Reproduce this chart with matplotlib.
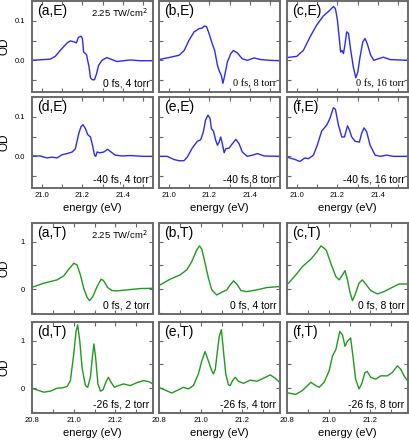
import matplotlib
matplotlib.use("Agg")
import matplotlib.pyplot as plt
from matplotlib.ticker import MultipleLocator, FormatStrFormatter

plt.rcParams["font.family"] = ["Liberation Sans", "DejaVu Sans"]

# ---- E panels (energy axis 20.95 - 21.55 eV) ----
aE_x = [20.95, 21.04, 21.065, 21.09, 21.124, 21.14, 21.157, 21.17, 21.18, 21.193, 21.2, 21.206,
        21.22, 21.226, 21.233, 21.24, 21.249, 21.26, 21.27, 21.28, 21.297, 21.32, 21.347, 21.37,
        21.437, 21.487, 21.55]
aE_y = [0.0, 0.003, 0.01, 0.025, 0.044, 0.049, 0.047, 0.044, 0.058, 0.061, 0.055, 0.021,
        0.015, 0.0, -0.017, -0.044, -0.049, -0.049, -0.034, -0.013, 0.0, 0.007, 0.002, -0.003,
        0.001, -0.001, -0.001]

bE_x = [20.95, 21.008, 21.05, 21.075, 21.099, 21.124, 21.148, 21.165, 21.176, 21.186, 21.198,
        21.214, 21.226, 21.24, 21.249, 21.259, 21.267, 21.276, 21.289, 21.306, 21.319, 21.338,
        21.363, 21.388, 21.421, 21.454, 21.504, 21.55]
bE_y = [0.002, 0.008, 0.013, 0.025, 0.051, 0.072, 0.08, 0.082, 0.087, 0.085, 0.068,
        0.042, 0.025, -0.013, -0.027, -0.038, -0.058, -0.038, -0.004, 0.017, 0.025, 0.019,
        0.004, 0.0, 0.006, 0.002, 0.0, -0.001]

cE_x = [20.95, 20.998, 21.031, 21.064, 21.097, 21.13, 21.163, 21.18, 21.19, 21.2, 21.21, 21.216,
        21.223, 21.23, 21.238, 21.246, 21.255, 21.266, 21.279, 21.291, 21.301, 21.312, 21.326,
        21.337, 21.348, 21.365, 21.381, 21.403, 21.428, 21.461, 21.55]
cE_y = [0.007, 0.01, 0.025, 0.059, 0.089, 0.112, 0.127, 0.136, 0.131, 0.102, 0.051, 0.021,
        0.025, 0.017, 0.042, 0.072, 0.068, 0.025, -0.017, -0.044, -0.03, 0.008, 0.047,
        0.055, 0.042, 0.013, 0.0, 0.004, 0.008, 0.002, 0.0]

dE_x = [20.95, 20.991, 21.024, 21.049, 21.074, 21.099, 21.124, 21.149, 21.165, 21.182, 21.193,
        21.203, 21.215, 21.226, 21.24, 21.25, 21.26, 21.266, 21.273, 21.286, 21.306, 21.325,
        21.342, 21.363, 21.396, 21.438, 21.504, 21.55]
dE_y = [0.001, 0.001, -0.004, -0.002, -0.004, 0.004, 0.007, 0.011, 0.019, 0.058, 0.075,
        0.08, 0.07, 0.055, 0.049, 0.028, 0.003, 0.0, 0.011, 0.009, 0.011, 0.018,
        0.011, 0.003, 0.001, 0.002, 0.0, 0.0]

eE_x = [20.95, 20.991, 21.024, 21.049, 21.074, 21.09, 21.115, 21.14, 21.157, 21.17, 21.181,
        21.193, 21.203, 21.21, 21.22, 21.231, 21.24, 21.248, 21.256, 21.264, 21.273, 21.281,
        21.298, 21.314, 21.331, 21.347, 21.363, 21.388, 21.413, 21.438, 21.471, 21.55]
eE_y = [0.0, 0.0, -0.008, -0.011, -0.011, -0.002, 0.021, 0.038, 0.042, 0.062, 0.092,
        0.104, 0.096, 0.07, 0.064, 0.041, 0.028, 0.036, 0.049, 0.032, 0.009, 0.019,
        0.021, 0.032, 0.043, 0.032, 0.011, 0.0, 0.003, 0.007, 0.001, 0.0]

fE_x = [20.95, 20.99, 21.014, 21.039, 21.056, 21.081, 21.1, 21.122, 21.147, 21.163, 21.18,
        21.19, 21.205, 21.222, 21.235, 21.25, 21.26, 21.271, 21.288, 21.309, 21.32, 21.332,
        21.345, 21.362, 21.387, 21.412, 21.444, 21.477, 21.55]
fE_y = [-0.002, -0.008, -0.013, -0.004, -0.006, 0.003, 0.028, 0.064, 0.079, 0.096, 0.123,
        0.119, 0.079, 0.049, 0.049, 0.077, 0.066, 0.049, 0.038, 0.036, 0.058, 0.072,
        0.062, 0.028, 0.003, 0.0, 0.003, 0.0, 0.0]

# ---- T panels (energy axis 20.8 - 21.38 eV) ----
aT_x = [20.8, 20.856, 20.92, 20.952, 20.976, 21.0, 21.016, 21.032, 21.048, 21.064, 21.076,
        21.092, 21.112, 21.131, 21.143, 21.163, 21.183, 21.207, 21.255, 21.319, 21.38]
aT_y = [0.04, 0.126, 0.196, 0.28, 0.42, 0.545, 0.51, 0.30, 0.02, -0.17, -0.24,
        -0.15, 0.056, 0.21, 0.18, 0.035, -0.028, -0.035, -0.014, 0.014, 0.02]

bT_x = [20.805, 20.853, 20.901, 20.933, 20.957, 20.981, 20.994, 21.005, 21.021, 21.037, 21.053,
        21.077, 21.101, 21.125, 21.141, 21.157, 21.173, 21.193, 21.221, 21.269, 21.317, 21.378]
bT_y = [0.09, 0.21, 0.30, 0.406, 0.58, 0.825, 0.91, 0.84, 0.545, 0.23, -0.014,
        -0.12, -0.063, -0.014, 0.09, 0.175, 0.11, -0.028, -0.05, -0.014, 0.035, 0.056]

cT_x = [20.807, 20.842, 20.874, 20.914, 20.941, 20.963, 20.978, 20.989, 21.01, 21.034, 21.05,
        21.066, 21.078, 21.09, 21.101, 21.114, 21.126, 21.145, 21.161, 21.177, 21.201, 21.233,
        21.265, 21.305, 21.337, 21.377]
cT_y = [0.126, 0.30, 0.475, 0.63, 0.77, 0.91, 0.86, 0.81, 0.545, 0.266, 0.196,
        0.30, 0.39, 0.196, -0.05, -0.24, -0.12, 0.126, 0.196, 0.11, -0.028, -0.098,
        -0.05, 0.04, 0.11, 0.11]

dT_x = [20.8, 20.856, 20.888, 20.92, 20.944, 20.968, 20.984, 21.0, 21.011, 21.019, 21.029,
        21.04, 21.056, 21.067, 21.08, 21.089, 21.097, 21.105, 21.116, 21.128, 21.14, 21.156,
        21.166, 21.179, 21.195, 21.215, 21.239, 21.271, 21.303, 21.335, 21.359, 21.38]
dT_y = [0.0, -0.083, -0.062, 0.0, 0.007, 0.034, 0.16, 0.71, 1.19, 1.33, 0.99,
        0.43, 0.055, 0.02, 0.23, 0.64, 0.93, 0.64, 0.09, -0.062, -0.034, 0.145,
        0.23, 0.124, 0.02, 0.055, 0.09, 0.055, 0.117, 0.16, 0.138, 0.09]

eT_x = [20.805, 20.861, 20.893, 20.917, 20.941, 20.965, 20.989, 21.005, 21.021, 21.037, 21.053,
        21.061, 21.07, 21.08, 21.089, 21.099, 21.109, 21.12, 21.133, 21.141, 21.153, 21.165,
        21.181, 21.205, 21.237, 21.269, 21.301, 21.333, 21.357, 21.378]
eT_y = [0.007, -0.10, -0.034, 0.02, -0.014, 0.055, 0.30, 0.57, 0.77, 0.57, 0.365,
        0.30, 0.40, 0.78, 1.09, 1.23, 0.78, 0.30, 0.07, 0.055, 0.16, 0.23,
        0.145, 0.103, 0.17, 0.145, 0.21, 0.28, 0.21, 0.124]

fT_x = [20.807, 20.842, 20.874, 20.914, 20.938, 20.954, 20.978, 21.002, 21.018, 21.034, 21.043,
        21.053, 21.066, 21.078, 21.09, 21.105, 21.117, 21.129, 21.145, 21.158, 21.174, 21.185,
        21.201, 21.225, 21.249, 21.281, 21.305, 21.329, 21.345, 21.361, 21.377]
fT_y = [-0.10, -0.13, -0.048, 0.124, 0.055, 0.02, 0.124, 0.365, 0.676, 0.81, 0.99,
        1.19, 1.12, 0.88, 0.99, 1.055, 0.64, 0.19, -0.014, 0.09, 0.33, 0.35,
        0.23, 0.19, 0.26, 0.26, 0.33, 0.47, 0.40, 0.26, 0.16]

E_series = [(aE_x, aE_y), (bE_x, bE_y), (cE_x, cE_y), (dE_x, dE_y), (eE_x, eE_y), (fE_x, fE_y)]
T_series = [(aT_x, aT_y), (bT_x, bT_y), (cT_x, cT_y), (dT_x, dT_y), (eT_x, eT_y), (fT_x, fT_y)]

E_tags = ["(a,E)", "(b,E)", "(c,E)", "(d,E)", "(e,E)", "(f,E)"]
T_tags = ["(a,T)", "(b,T)", "(c,T)", "(d,T)", "(e,T)", "(f,T)"]
E_notes = ["0 fs, 4 torr", "0 fs, 8 torr", "0 fs, 16 torr",
           "-40 fs, 4 torr", "-40 fs,8 torr", "-40 fs, 16 torr"]
T_notes = ["0 fs, 2 torr", "0 fs, 4 torr", "0 fs, 8 torr",
           "-26 fs, 2 torr", "-26 fs, 4 torr", "-26 fs, 8 torr"]
# notes that look typeset in a serif face in the original
serif_notes = {1, 2}

W, H = 409, 440
fig = plt.figure(figsize=(W / 100, H / 100), dpi=100)

col_left = [32, 159, 287]
col_w = 121
row_top = [1, 97, 223, 322]
row_h = 91


def make_ax(row, col):
    l = col_left[col] / W
    b = 1 - (row_top[row] + row_h) / H
    ax = fig.add_axes([l, b, col_w / W, row_h / H])
    for s in ax.spines.values():
        s.set_color("#6a6a6a")
        s.set_linewidth(1.4)
    ax.tick_params(which="both", direction="in", top=True, right=True, length=3,
                   width=0.8, colors="#666666", labelcolor="black", labelsize=5.5)
    ax.tick_params(axis="x", pad=3)
    ax.tick_params(axis="y", pad=5)
    return ax


def draw_group(series, tags, notes, first_row, color, xlim, ylim, ymaj, ymin, yfmt, xmaj, xmin):
    for i, (xs, ys) in enumerate(series):
        row = first_row + i // 3
        col = i % 3
        ax = make_ax(row, col)
        ax.plot(xs, ys, color=color, lw=1.0)
        ax.set_xlim(*xlim)
        ax.set_ylim(*ylim)
        ax.xaxis.set_major_locator(MultipleLocator(xmaj))
        ax.xaxis.set_minor_locator(MultipleLocator(xmin))
        ax.yaxis.set_major_locator(MultipleLocator(ymaj))
        ax.yaxis.set_minor_locator(MultipleLocator(ymin))
        ax.yaxis.set_major_formatter(FormatStrFormatter(yfmt))
        ax.xaxis.set_major_formatter(FormatStrFormatter("%.1f"))
        if col != 0:
            ax.set_yticklabels([])
        else:
            ax.set_ylabel("OD", fontsize=8.5)
            ax.yaxis.set_label_coords(-21 / col_w, 0.5)
        if row == first_row:
            ax.set_xticklabels([])
        else:
            ax.set_xlabel("energy (eV)", fontsize=8)
            ax.xaxis.set_label_coords(0.5, -15 / row_h)
        ax.text(0.04, 0.97, tags[i], transform=ax.transAxes, fontsize=10,
                ha="left", va="top")
        fam = "Liberation Serif" if (first_row == 0 and i in serif_notes) else "Liberation Sans"
        ax.text(0.97, 0.04, notes[i], transform=ax.transAxes, fontsize=7.5,
                ha="right", va="bottom", family=fam)
        if i == 0:
            ax.text(0.96, 0.94, "2.25 TW/cm$^2$", transform=ax.transAxes, fontsize=6.8,
                    ha="right", va="top")


draw_group(E_series, E_tags, E_notes, 0, "#2b2bf5", (20.95, 21.55), (-0.08, 0.15),
           0.1, 0.05, "%.1f", 0.2, 0.1)
draw_group(T_series, T_tags, T_notes, 2, "#1f9a1f", (20.8, 21.38), (-0.52, 1.39),
           1.0, 0.5, "%.0f", 0.2, 0.1)

fig.savefig("out.png", dpi=100)
